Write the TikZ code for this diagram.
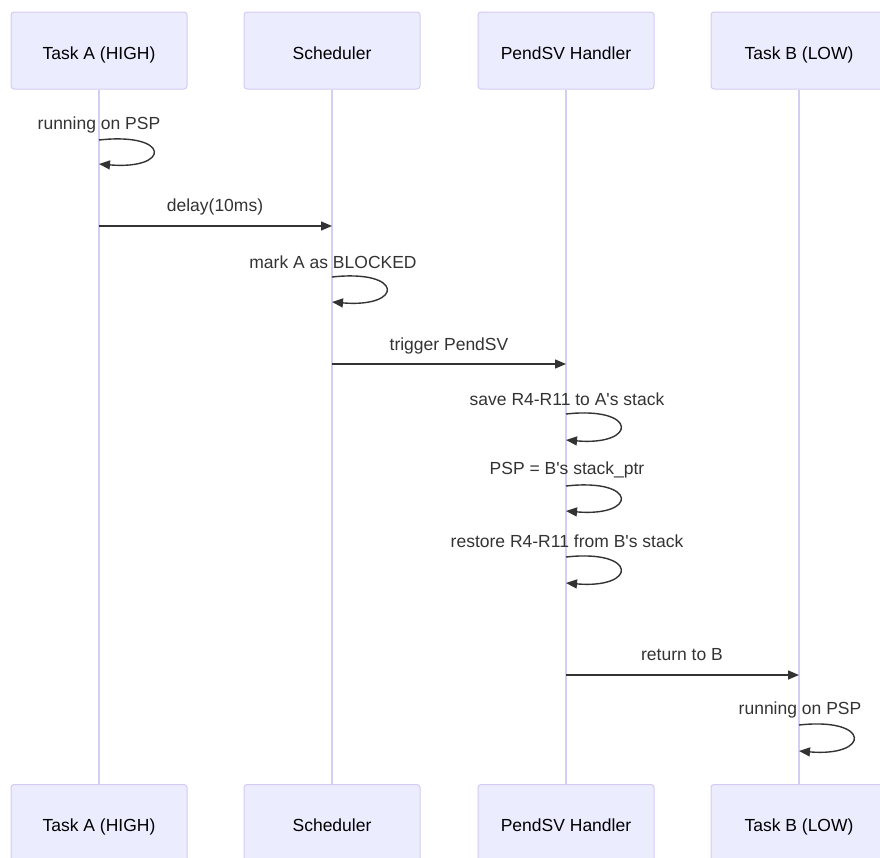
\documentclass[tikz,border=0pt]{standalone}
\usepackage{fontspec}
\setmainfont{Liberation Sans}
\usetikzlibrary{calc}
\usetikzlibrary{arrows.meta}
\definecolor{actfill}{RGB}{236,236,255}
\definecolor{actline}{RGB}{212,202,242}
\definecolor{lifecol}{RGB}{214,206,242}
\definecolor{msgcol}{RGB}{51,51,51}

\begin{document}
\begin{tikzpicture}[x=1pt, y=-1pt,
    actor/.style={draw=actline, fill=actfill, rounded corners=3pt, line width=1pt,
        minimum width=176pt, minimum height=77pt, text height=17.6pt, text depth=0pt,
        font=\fontsize{17.5}{20}\selectfont},
    msg/.style={draw=msgcol, line width=1.4pt, -{Triangle[length=11pt,width=9pt]}},
    lbl/.style={font=\fontsize{17.5}{20}\selectfont, text=msgcol, inner sep=0pt}]
        \useasboundingbox (0,0) rectangle (880,857);

        \node (taska) [actor] at (99,50.5) {Task A (HIGH)};
        \node (sched) [actor] at (332,50.5) {Scheduler};
        \node (pendsv) [actor] at (566,50.5) {PendSV Handler};
        \node (taskb) [actor] at (799,50.5) {Task B (LOW)};

        \node (taskaend) [actor] at (99,823) {Task A (HIGH)};
        \node (schedend) [actor] at (332,823) {Scheduler};
        \node (pendsvend) [actor] at (566,823) {PendSV Handler};
        \node (taskbend) [actor] at (799,823) {Task B (LOW)};

        \draw [lifecol, line width=1.3pt] (taska.south) -- (taskaend.north);
        \draw [lifecol, line width=1.3pt] (sched.south) -- (schedend.north);
        \draw [lifecol, line width=1.3pt] (pendsv.south) -- (pendsvend.north);
        \draw [lifecol, line width=1.3pt] (taskb.south) -- (taskbend.north);

        % running on PSP (A)
        \node (runalab) [lbl] at (99,125) {running on PSP};
        \coordinate (runas) at (99,140);
        \coordinate (runae) at (99,164);
        \draw [msg] (runas) .. controls ($(runas) + (72,-8)$) and ($(runae) + (72,6)$) .. (runae);

        % delay
        \node (delaylab) [lbl] at (215,207) {delay(10ms)};
        \coordinate (delays) at (99,226);
        \coordinate (delaye) at (332,226);
        \draw [msg] (delays) -- (delaye);

        % mark A as BLOCKED
        \node (marklab) [lbl] at (333,262) {mark A as BLOCKED};
        \coordinate (marks) at (332,277);
        \coordinate (marke) at (332,302);
        \draw [msg] (marks) .. controls ($(marks) + (72,-8)$) and ($(marke) + (72,6)$) .. (marke);

        % trigger PendSV
        \node (triglab) [lbl] at (449,346) {trigger PendSV};
        \coordinate (trigs) at (332,364);
        \coordinate (trige) at (566,364);
        \draw [msg] (trigs) -- (trige);

        % save
        \node (savelab) [lbl] at (567,399) {save R4-R11 to A\textquotesingle s stack};
        \coordinate (saves) at (566,414);
        \coordinate (savee) at (566,440);
        \draw [msg] (saves) .. controls ($(saves) + (72,-8)$) and ($(savee) + (72,6)$) .. (savee);

        % PSP switch
        \node (psplab) [lbl] at (567,470) {PSP = B\textquotesingle s stack\_ptr};
        \coordinate (psps) at (566,486);
        \coordinate (pspe) at (566,511);
        \draw [msg] (psps) .. controls ($(psps) + (72,-8)$) and ($(pspe) + (72,6)$) .. (pspe);

        % restore
        \node (restlab) [lbl] at (567,541) {restore R4-R11 from B\textquotesingle s stack};
        \coordinate (rests) at (566,557);
        \coordinate (reste) at (566,583);
        \draw [msg] (rests) .. controls ($(rests) + (72,-8)$) and ($(reste) + (72,6)$) .. (reste);

        % return to B
        \node (retlab) [lbl] at (682,655) {return to B};
        \coordinate (rets) at (566,675);
        \coordinate (rete) at (799,675);
        \draw [msg] (rets) -- (rete);

        % running on PSP (B)
        \node (runblab) [lbl] at (800,710) {running on PSP};
        \coordinate (runbs) at (799,725);
        \coordinate (runbe) at (799,751);
        \draw [msg] (runbs) .. controls ($(runbs) + (72,-8)$) and ($(runbe) + (72,6)$) .. (runbe);
\end{tikzpicture}
\end{document}
